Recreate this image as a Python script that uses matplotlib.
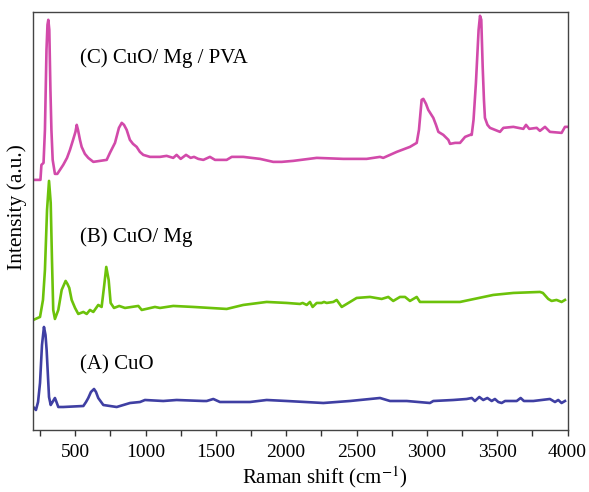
import matplotlib.pyplot as plt
from matplotlib.ticker import MultipleLocator

plt.rcParams['font.family'] = ['Liberation Serif', 'DejaVu Serif']
plt.rcParams['mathtext.fontset'] = 'stix'

# (A) CuO
shift_a = [202, 221, 236, 250, 264, 278, 289, 297, 314, 326, 339, 356, 367, 380, 415,
           558, 577, 593, 612, 634, 648, 664, 700, 795, 890, 961, 996, 1126, 1221,
           1411, 1435, 1482, 1529, 1743, 1861, 2004, 2264, 2454, 2667, 2738, 2857,
           3022, 3046, 3188, 3283, 3319, 3342, 3373, 3401, 3430, 3461, 3484, 3508,
           3532, 3556, 3639, 3667, 3690, 3757, 3875, 3911, 3934, 3958, 3982]
int_a = [23, 20, 28, 47, 85, 103, 95, 80, 33, 25, 28, 32, 28, 23, 23,
         24, 28, 32, 38, 41, 38, 32, 25, 23, 27, 28, 30, 29, 30,
         29, 29, 31, 28, 28, 30, 29, 27, 29, 32, 29, 29,
         27, 29, 30, 31, 32, 29, 33, 30, 32, 29, 31, 28,
         27, 29, 29, 32, 29, 29, 31, 28, 30, 27, 29]

# (B) CuO/ Mg
shift_b = [202, 250, 271, 285, 300, 314, 326, 335, 344, 356, 380, 404, 432, 445, 458,
           475, 499, 522, 558, 582, 605, 629, 664, 688, 705, 721, 738, 752, 776, 813,
           854, 949, 973, 1067, 1103, 1197, 1340, 1577, 1695, 1861, 2004, 2098, 2117,
           2146, 2169, 2188, 2217, 2252, 2269, 2288, 2335, 2359, 2395, 2454, 2501,
           2596, 2679, 2726, 2761, 2809, 2845, 2880, 2928, 2951, 3070, 3236, 3472,
           3615, 3804, 3825, 3863, 3887, 3922, 3958, 3982]
int_b = [110, 113, 130, 160, 220, 249, 227, 170, 120, 111, 120, 140, 149, 146, 142,
         130, 122, 116, 118, 116, 120, 118, 125, 123, 143, 163, 150, 127, 122, 124,
         122, 124, 120, 123, 122, 124, 123, 121, 125, 128, 127, 126, 127,
         125, 128, 123, 127, 127, 128, 127, 128, 130, 123, 128, 132,
         133, 131, 133, 129, 133, 133, 129, 133, 128, 128, 128, 135,
         137, 138, 137, 131, 129, 130, 128, 130]

# (C) CuO/ Mg / PVA
shift_c = [202, 253, 260, 275, 285, 296, 303, 309, 316, 324, 331, 340, 356, 373, 415,
           442, 463, 485, 502, 511, 520, 534, 546, 569, 593, 629, 676, 724, 747, 783,
           811, 831, 847, 866, 889, 911, 937, 960, 984, 1032, 1103, 1150, 1197, 1221,
           1250, 1288, 1321, 1345, 1375, 1411, 1458, 1494, 1577, 1613, 1695, 1814,
           1908, 1968, 2050, 2217, 2406, 2572, 2667, 2690, 2738, 2786, 2880, 2928,
           2944, 2963, 2975, 2994, 3010, 3046, 3065, 3082, 3117, 3153, 3165, 3201,
           3236, 3272, 3308, 3319, 3332, 3349, 3368, 3378, 3387, 3397, 3406, 3413,
           3431, 3449, 3520, 3544, 3615, 3686, 3705, 3728, 3781, 3804, 3840, 3875,
           3958, 3982, 3998]
int_c = [250, 250, 265, 267, 300, 380, 405, 410, 400, 340, 300, 270, 256, 256, 265,
         272, 280, 290, 298, 305, 300, 290, 283, 276, 272, 268, 269, 270, 277, 287,
         302, 307, 305, 300, 290, 286, 283, 278, 275, 273, 273, 274, 272, 275,
         271, 275, 272, 273, 271, 270, 273, 270, 270, 273, 273, 271,
         268, 268, 269, 272, 271, 271, 273, 272, 275, 278, 283, 287,
         300, 330, 331, 326, 320, 312, 305, 298, 295, 290, 286, 287,
         287, 293, 295, 295, 310, 347, 400, 414, 410, 363, 330, 312,
         305, 302, 298, 302, 303, 301, 305, 301, 302, 299, 303, 298,
         297, 303, 303]

fig = plt.figure(figsize=(5.89, 4.92), dpi=100)
ax = fig.add_axes([0.056, 0.126, 0.9075, 0.85])

ax.plot(shift_a, int_a, color='#3f3fa3', lw=1.9, solid_joinstyle='round')
ax.plot(shift_b, int_b, color='#6cc20a', lw=1.9, solid_joinstyle='round')
ax.plot(shift_c, int_c, color='#d24aaa', lw=1.9, solid_joinstyle='round')

ax.text(534, 65, '(A) CuO', fontsize=15, va='center')
ax.text(534, 193, '(B) CuO/ Mg', fontsize=15, va='center')
ax.text(534, 372, '(C) CuO/ Mg / PVA', fontsize=15, va='center')

ax.set_xlim(200, 4000)
ax.set_ylim(0, 418)
ax.xaxis.set_major_locator(MultipleLocator(500))
ax.xaxis.set_minor_locator(MultipleLocator(250))
ax.tick_params(axis='x', which='both', direction='out', length=4, width=1,
               labelsize=14, pad=6, color='#333333')
ax.set_yticks([])
for sp in ax.spines.values():
    sp.set_color('#444444')
    sp.set_linewidth(1.0)

ax.set_xlabel('Raman shift (cm$^{-1}$)', fontsize=15)
ax.set_ylabel('Intensity (a.u.)', fontsize=15.5)
ax.xaxis.set_label_coords(0.546, -0.083)
ax.yaxis.set_label_coords(-0.011, 0.533)

fig.savefig('out.png', dpi=100)
